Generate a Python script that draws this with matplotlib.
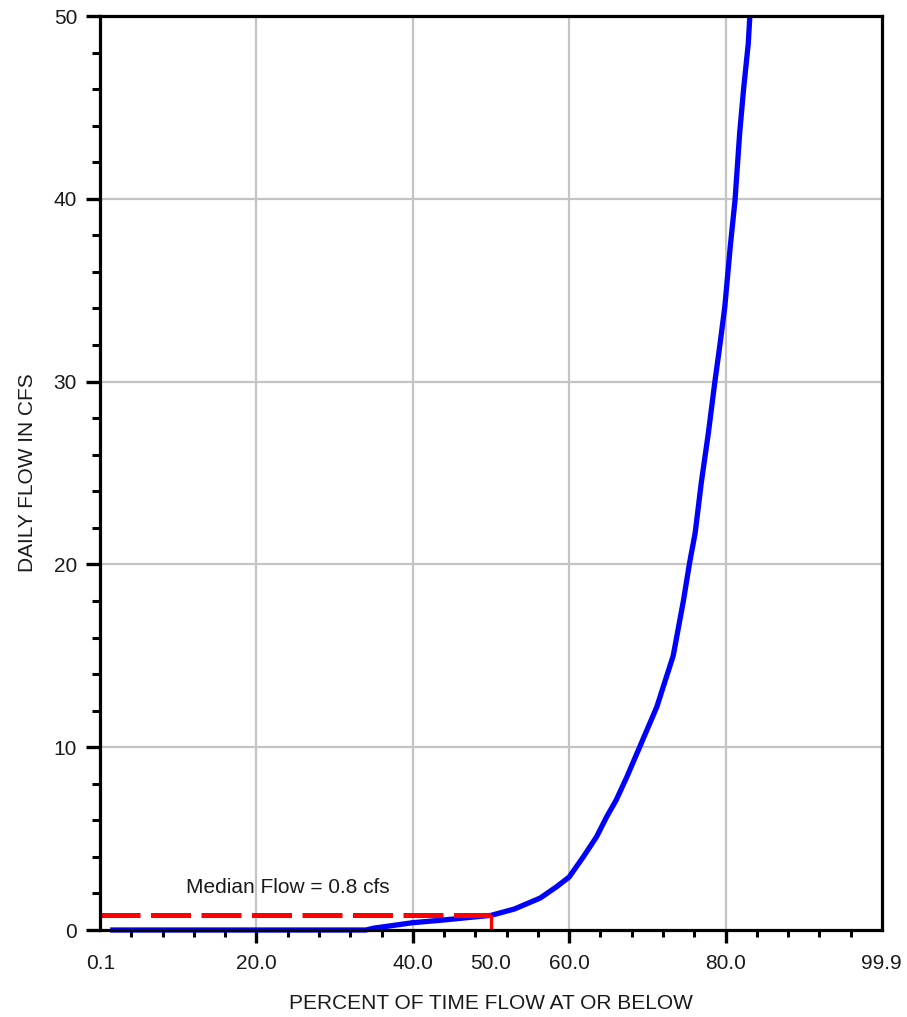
import matplotlib
matplotlib.use("Agg")
import matplotlib.pyplot as plt
from matplotlib.ticker import MultipleLocator, FixedLocator

plt.rcParams['font.family'] = ['Liberation Sans', 'DejaVu Sans']

# Flow duration curve: percent of time flow at or below vs daily flow (cfs)
percent = [1.3, 34.0, 35.0, 40.0, 44.0, 48.0, 50.0, 53.0, 56.3, 58.4, 60.0,
           61.8, 63.5, 64.8, 66.0, 67.4, 69.0, 71.2, 73.3, 74.6, 75.4, 76.1,
           76.9, 77.8, 78.6, 79.3, 79.9, 80.6, 81.2, 81.8, 82.3, 82.9, 83.1]
flow = [0.0, 0.0, 0.1, 0.4, 0.55, 0.72, 0.8, 1.15, 1.75, 2.37, 2.9,
        4.0, 5.1, 6.2, 7.1, 8.4, 10.0, 12.2, 15.0, 18.0, 20.1, 21.7,
        24.5, 27.2, 29.9, 32.1, 34.1, 37.4, 39.9, 43.6, 46.0, 48.5, 50.0]

median_percent = 50.0
median_flow = 0.8

xtick_values = [0.1, 20.0, 40.0, 50.0, 60.0, 80.0, 99.9]
xtick_labels = ["0.1", "20.0", "40.0", "50.0", "60.0", "80.0", "99.9"]
ytick_values = [0, 10, 20, 30, 40, 50]

fig = plt.figure(figsize=(9.07, 10.17), dpi=100)
ax = fig.add_axes([100 / 907, 87 / 1017, 782 / 907, 914 / 1017])

ax.set_xlim(0, 100)
ax.set_ylim(0, 50)

# grid
for gx in [20, 40, 60, 80]:
    ax.axvline(gx, color='#c4c4c4', lw=1.6, zorder=0)
for gy in [10, 20, 30, 40]:
    ax.axhline(gy, color='#c4c4c4', lw=1.6, zorder=0)

# median reference
ax.plot([0, median_percent], [median_flow, median_flow], color='#ff0000',
        lw=3.6, dashes=(8, 2.1), dash_capstyle='butt', zorder=3)
ax.plot([median_percent, median_percent], [0, median_flow], color='#ff0000',
        lw=2.4, solid_capstyle='butt', zorder=3)

# flow curve
ax.plot(percent, flow, color='#0000ff', lw=3.8, zorder=2, clip_on=False,
        solid_capstyle='butt', solid_joinstyle='round')

ax.text(24.0, 2.3, "Median Flow = 0.8 cfs", fontsize=15, color='#1a1a1a',
        ha='center', va='center')

# spines
for s in ax.spines.values():
    s.set_linewidth(2.3)
    s.set_color('black')
    s.set_zorder(5)

# y ticks
ax.set_yticks(ytick_values)
ax.set_yticklabels([str(v) for v in ytick_values])
ax.yaxis.set_minor_locator(MultipleLocator(2))
ax.tick_params(axis='y', which='major', length=10, width=2.4, pad=6.5,
               labelsize=15, labelcolor='#1a1a1a', direction='out')
ax.tick_params(axis='y', which='minor', length=6, width=2.2, direction='out')

# x ticks
ax.set_xticks(xtick_values)
ax.set_xticklabels(xtick_labels)
minor_x = [v for v in range(4, 100, 4) if v not in (20, 40, 60, 80)]
ax.xaxis.set_minor_locator(FixedLocator(minor_x))
ax.tick_params(axis='x', which='major', length=9.5, width=2.4, pad=8,
               labelsize=15, labelcolor='#1a1a1a', direction='out')
ax.tick_params(axis='x', which='minor', length=5, width=2.2, direction='out')
for tick, val in zip(ax.xaxis.get_major_ticks(), xtick_values):
    if val in (0.1, 50.0, 99.9):
        tick.tick1line.set_visible(False)

ax.set_xlabel("PERCENT OF TIME FLOW AT OR BELOW", fontsize=15, color='#1a1a1a')
ax.xaxis.set_label_coords(0.5, -0.0700)
ax.set_ylabel("DAILY FLOW IN CFS", fontsize=15, color='#1a1a1a')
ax.yaxis.set_label_coords(-0.08, 0.5)

fig.savefig("out.png", dpi=100)
